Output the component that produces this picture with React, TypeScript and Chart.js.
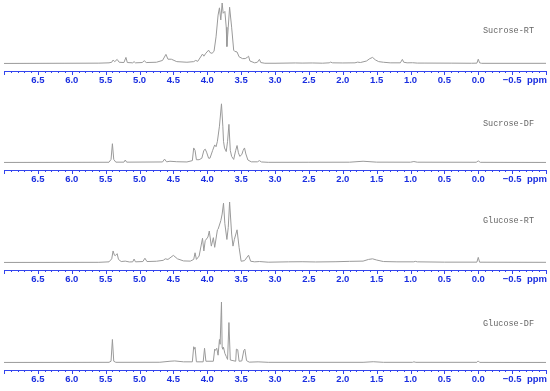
import React, { useEffect, useRef } from "react";
import { Chart, registerables } from "chart.js";

Chart.register(...registerables);

// ---- Data (ppm, relative intensity) ----
const sucroseRTppm = [7.0, 6.1, 5.6, 5.45, 5.41, 5.39, 5.365, 5.33, 5.3, 5.23, 5.2, 5.18, 5.1, 5.08, 5.06, 4.96, 4.93, 4.9, 4.75, 4.66, 4.61, 4.58, 4.53, 4.45, 4.3, 4.2, 4.17, 4.14, 4.07, 4.05, 4.02, 3.98, 3.96, 3.93, 3.9, 3.87, 3.84, 3.82, 3.8, 3.78, 3.765, 3.74, 3.72, 3.71, 3.69, 3.67, 3.64, 3.61, 3.595, 3.56, 3.53, 3.48, 3.44, 3.41, 3.39, 3.37, 3.3, 3.26, 3.23, 3.21, 3.15, 3.0, 2.7, 2.6, 2.45, 2.3, 2.2, 2.18, 2.15, 2.0, 1.82, 1.78, 1.74, 1.65, 1.6, 1.56, 1.52, 1.47, 1.4, 1.3, 1.15, 1.12, 1.1, 1.05, 0.97, 0.9, 0.8, 0.4, 0.1, 0.02, 0.0, -0.02, -0.05, -1.0];
const sucroseRTint = [0, 0.003, 0.005, 0.01, 0.02, 0.056, 0.03, 0.067, 0.02, 0.015, 0.1, 0.015, 0.01, 0.03, 0.01, 0.015, 0.045, 0.015, 0.02, 0.05, 0.15, 0.07, 0.07, 0.03, 0.02, 0.03, 0.05, 0.035, 0.155, 0.12, 0.17, 0.22, 0.18, 0.167, 0.2, 0.44, 0.8, 0.92, 0.72, 1.0, 0.83, 0.86, 0.6, 0.28, 0.6, 0.93, 0.6, 0.22, 0.2, 0.19, 0.11, 0.08, 0.08, 0.1, 0.12, 0.04, 0.01, 0.02, 0.067, 0.015, 0.003, 0.003, 0.008, 0.006, 0.008, 0.004, 0.01, 0.022, 0.01, 0.008, 0.01, 0.022, 0.015, 0.04, 0.08, 0.1, 0.06, 0.03, 0.02, 0.01, 0.01, 0.067, 0.02, 0.01, 0.012, 0.006, 0.006, 0.005, 0.003, 0.005, 0.07, 0.01, 0.002, 0.002];

const sucroseDFppm = [7.0, 5.45, 5.42, 5.4, 5.38, 5.35, 5.23, 5.21, 5.19, 4.66, 4.63, 4.6, 4.55, 4.45, 4.3, 4.22, 4.2, 4.18, 4.16, 4.12, 4.08, 4.05, 4.03, 4.01, 3.98, 3.96, 3.92, 3.89, 3.87, 3.85, 3.82, 3.79, 3.77, 3.76, 3.745, 3.72, 3.7, 3.68, 3.66, 3.64, 3.61, 3.58, 3.56, 3.54, 3.52, 3.49, 3.47, 3.45, 3.43, 3.4, 3.35, 3.26, 3.23, 3.2, 3.1, 2.5, 1.9, 1.7, 1.5, 1.0, 0.95, 0.9, 0.03, 0.0, -0.03, -1.0];
const sucroseDFint = [0, 0.003, 0.05, 0.31, 0.05, 0.005, 0.005, 0.04, 0.005, 0.008, 0.055, 0.01, 0.02, 0.012, 0.008, 0.03, 0.24, 0.2, 0.045, 0.045, 0.07, 0.2, 0.22, 0.17, 0.07, 0.07, 0.2, 0.29, 0.26, 0.35, 0.6, 0.97, 0.6, 0.35, 0.24, 0.18, 0.35, 0.63, 0.2, 0.1, 0.05, 0.2, 0.28, 0.16, 0.1, 0.13, 0.2, 0.24, 0.14, 0.04, 0.01, 0.01, 0.03, 0.008, 0.002, 0.003, 0.004, 0.02, 0.005, 0.004, 0.015, 0.004, 0.003, 0.025, 0.002, 0];

const glucoseRTppm = [7.0, 5.6, 5.45, 5.41, 5.39, 5.37, 5.36, 5.33, 5.31, 5.27, 5.21, 5.15, 5.1, 5.08, 5.06, 4.95, 4.92, 4.89, 4.75, 4.65, 4.62, 4.58, 4.5, 4.44, 4.35, 4.25, 4.2, 4.18, 4.16, 4.12, 4.07, 4.05, 4.03, 3.99, 3.97, 3.94, 3.91, 3.89, 3.85, 3.84, 3.8, 3.78, 3.76, 3.74, 3.71, 3.69, 3.67, 3.64, 3.62, 3.6, 3.56, 3.53, 3.5, 3.45, 3.39, 3.36, 3.3, 3.23, 3.1, 2.8, 2.6, 2.4, 2.1, 1.9, 1.7, 1.62, 1.56, 1.5, 1.4, 1.2, 0.95, 0.93, 0.9, 0.5, 0.02, 0.0, -0.02, -1.0];
const glucoseRTint = [0, 0.002, 0.01, 0.06, 0.19, 0.12, 0.11, 0.145, 0.05, 0.015, 0.022, 0.008, 0.01, 0.056, 0.01, 0.015, 0.07, 0.015, 0.02, 0.035, 0.06, 0.05, 0.117, 0.06, 0.025, 0.022, 0.05, 0.16, 0.05, 0.106, 0.4, 0.19, 0.36, 0.42, 0.52, 0.27, 0.41, 0.25, 0.54, 0.55, 0.69, 0.8, 0.98, 0.64, 0.38, 0.58, 1.0, 0.47, 0.27, 0.38, 0.54, 0.25, 0.02, 0.03, 0.12, 0.02, 0.01, 0.015, 0.004, 0.01, 0.012, 0.008, 0.012, 0.018, 0.022, 0.05, 0.06, 0.04, 0.015, 0.01, 0.01, 0.018, 0.01, 0.005, 0.005, 0.084, 0.004, 0.002];

const glucoseDFppm = [7.0, 5.45, 5.42, 5.4, 5.38, 5.35, 4.7, 4.55, 4.48, 4.35, 4.22, 4.2, 4.19, 4.18, 4.16, 4.06, 4.04, 4.02, 3.91, 3.89, 3.88, 3.86, 3.84, 3.82, 3.81, 3.79, 3.78, 3.77, 3.76, 3.74, 3.72, 3.7, 3.68, 3.66, 3.62, 3.58, 3.57, 3.55, 3.53, 3.49, 3.46, 3.445, 3.42, 3.38, 3.25, 3.1, 1.7, 1.55, 1.4, 0.97, 0.95, 0.92, 0.02, 0.0, -0.02, -1.0];
const glucoseDFint = [0, 0.002, 0.02, 0.38, 0.02, 0.002, 0.003, 0.02, 0.025, 0.01, 0.01, 0.26, 0.22, 0.25, 0.01, 0.01, 0.235, 0.02, 0.02, 0.22, 0.2, 0.235, 0.12, 0.38, 0.3, 1.0, 0.25, 0.22, 0.25, 0.15, 0.1, 0.05, 0.66, 0.04, 0.03, 0.02, 0.22, 0.21, 0.02, 0.025, 0.2, 0.22, 0.03, 0.005, 0.01, 0.002, 0.002, 0.012, 0.002, 0.002, 0.01, 0.002, 0.002, 0.025, 0.001, 0];

const panelLabels = ["Sucrose-RT", "Sucrose-DF", "Glucose-RT", "Glucose-DF"];
const panelPpm = [sucroseRTppm, sucroseDFppm, glucoseRTppm, glucoseDFppm];
const panelInt = [sucroseRTint, sucroseDFint, glucoseRTint, glucoseDFint];

const PPM_MAX = 7.0;
const PPM_MIN = -1.0;

// layout
const panelTops = [0, 99, 199, 299];
const labelYs = [31, 25, 22, 25];
const PANEL_H = 92;
const AXIS_BLUE = "#3344ee";
const LABEL_BLUE = "#1a2ee0";

function fmtTick(v: number): string {
  const r = Math.round(v * 10) / 10;
  if (r === PPM_MAX || r === PPM_MIN) return "";
  if (Math.abs(r * 2 - Math.round(r * 2)) > 1e-6) return "";
  if (r < 0) return "\u2212" + Math.abs(r).toFixed(1);
  return r.toFixed(1);
}

function Panel({ idx }: { idx: number }) {
  const ref = useRef<HTMLCanvasElement | null>(null);
  useEffect(() => {
    if (!ref.current) return;
    const ppm = panelPpm[idx];
    const ints = panelInt[idx];
    const label = panelLabels[idx];
    const labelY = labelYs[idx];
    const decor = {
      id: "nmrDecor" + idx,
      afterDraw(chart: any) {
        const s = chart.scales.x;
        const ctx = chart.ctx;
        ctx.save();
        ctx.strokeStyle = AXIS_BLUE;
        ctx.lineWidth = 1;
        const y0 = Math.round(s.top);
        const n = Math.round((PPM_MAX - PPM_MIN) * 10);
        for (let i = 0; i <= n; i++) {
          const v = PPM_MIN + i / 10;
          const px = Math.round(s.getPixelForValue(v)) + 0.5;
          const major = i % 5 === 0;
          const len = major ? 4 : 2;
          ctx.beginPath();
          ctx.moveTo(px, y0);
          ctx.lineTo(px, y0 + len);
          ctx.stroke();
        }
        // ppm unit
        ctx.fillStyle = LABEL_BLUE;
        ctx.font = "bold 9.5px 'Liberation Sans', Arial, sans-serif";
        ctx.textAlign = "center";
        ctx.textBaseline = "middle";
        ctx.fillText("ppm", 537, s.top + 9.7);
        // sample label
        ctx.fillStyle = "#666666";
        ctx.font = "8.5px 'Liberation Mono', 'Courier New', monospace";
        ctx.textAlign = "right";
        ctx.textBaseline = "middle";
        ctx.fillText(label, 534, labelY);
        ctx.restore();
      },
    };
    const chart = new Chart(ref.current, {
      type: "line",
      data: {
        datasets: [
          {
            data: ppm.map((x, i) => ({ x, y: ints[i] })),
            borderColor: "#9a9a9a",
            borderWidth: 1,
            pointRadius: 0,
            tension: 0,
            fill: false,
          },
        ],
      },
      options: {
        animation: false,
        responsive: false,
        events: [],
        layout: { padding: { top: 3, left: 2, right: 4, bottom: 0 } },
        plugins: { legend: { display: false }, tooltip: { enabled: false } },
        scales: {
          x: {
            type: "linear",
            min: PPM_MIN,
            max: PPM_MAX,
            reverse: true,
            grid: { display: false, drawTicks: false },
            border: { display: true, color: AXIS_BLUE, width: 1 },
            ticks: {
              stepSize: 0.5,
              autoSkip: false,
              maxRotation: 0,
              padding: 4,
              color: LABEL_BLUE,
              font: { family: "'Liberation Sans', Arial, sans-serif", size: 9.5, weight: "bold" },
              callback: (v: any) => fmtTick(Number(v)),
            },
            afterFit: (s: any) => {
              s.height = 21;
            },
          },
          y: { display: false, min: -0.125, max: 1.0 },
        },
      },
      plugins: [decor],
    } as any);
    return () => chart.destroy();
  }, [idx]);
  return (
    <canvas
      ref={ref}
      width={550}
      height={PANEL_H}
      style={{ position: "absolute", left: 0, top: panelTops[idx], width: 550, height: PANEL_H }}
    />
  );
}

export default function App() {
  return (
    <div style={{ position: "absolute", left: 0, top: 0, width: 550, height: 391, background: "#ffffff" }}>
      {panelLabels.map((_, i) => (
        <Panel key={i} idx={i} />
      ))}
    </div>
  );
}
